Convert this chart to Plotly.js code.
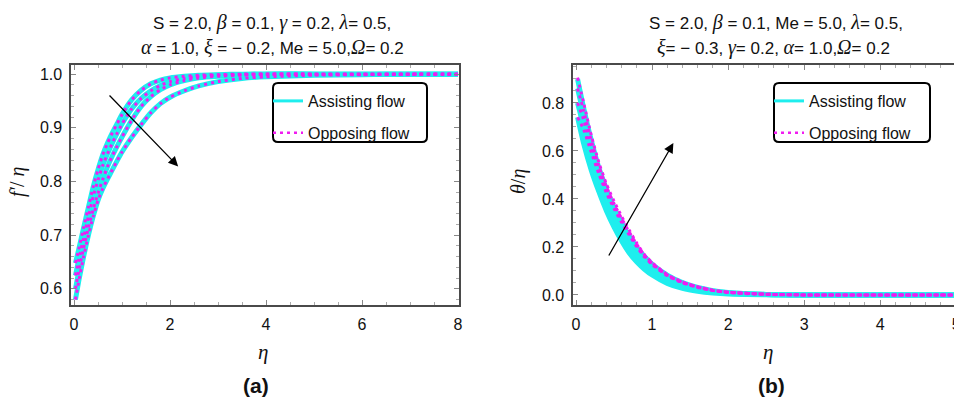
<!DOCTYPE html>
<html>
<head>
<meta charset="utf-8">
<script src="https://cdn.plot.ly/plotly-3.0.1.min.js"></script>
<style>
html,body{margin:0;padding:0;overflow:hidden;background:#fff;}
#chart{width:970px;height:398px;}
</style>
</head>
<body>
<div id="chart"></div>
<script>
// ---------- Panel (a): f'/eta vs eta ----------
const etaA = [0.03, 0.1, 0.2, 0.3, 0.4, 0.5, 0.6, 0.7, 0.8, 0.9, 1.0, 1.2, 1.4, 1.6, 1.8, 2.0, 2.3, 2.6, 3.0, 3.5, 4.0, 5.0, 6.0, 7.0, 8.0];
const fA1 = [0.648, 0.674, 0.714, 0.752, 0.790, 0.822, 0.850, 0.872, 0.891, 0.908, 0.925, 0.952, 0.970, 0.982, 0.989, 0.993, 0.996, 0.998, 0.999, 1.0, 1.0, 1.0, 1.0, 1.0, 1.0];
const fA2 = [0.625, 0.655, 0.695, 0.735, 0.772, 0.803, 0.830, 0.852, 0.872, 0.890, 0.907, 0.935, 0.955, 0.969, 0.979, 0.986, 0.992, 0.996, 0.998, 0.999, 1.0, 1.0, 1.0, 1.0, 1.0];
const fA3 = [0.600, 0.633, 0.676, 0.714, 0.748, 0.778, 0.804, 0.828, 0.848, 0.866, 0.883, 0.914, 0.940, 0.958, 0.971, 0.980, 0.988, 0.993, 0.996, 0.998, 1.0, 1.0, 1.0, 1.0, 1.0];
const fA4 = [0.580, 0.615, 0.660, 0.700, 0.735, 0.765, 0.787, 0.805, 0.822, 0.839, 0.855, 0.882, 0.906, 0.928, 0.945, 0.957, 0.969, 0.978, 0.986, 0.992, 0.995, 0.998, 0.999, 1.0, 1.0];
// opposing flow curves coincide with assisting ones in panel (a)
const fO1 = fA1, fO2 = fA2, fO3 = fA3, fO4 = fA4;

// ---------- Panel (b): theta/eta vs eta ----------
const etaB = [0.02, 0.1, 0.2, 0.3, 0.4, 0.5, 0.6, 0.7, 0.8, 0.9, 1.0, 1.2, 1.4, 1.6, 1.8, 2.0, 2.5, 3.0, 4.0, 5.1];
const tA1 = [0.90, 0.78, 0.645, 0.53, 0.44, 0.365, 0.30, 0.245, 0.198, 0.160, 0.128, 0.082, 0.051, 0.031, 0.018, 0.010, 0.002, 0.0, 0.0, 0.0];
const tA2 = [0.86, 0.75, 0.62, 0.51, 0.42, 0.345, 0.282, 0.228, 0.183, 0.146, 0.116, 0.073, 0.045, 0.027, 0.016, 0.009, 0.002, 0.0, 0.0, 0.0];
const tA3 = [0.80, 0.70, 0.58, 0.475, 0.39, 0.315, 0.252, 0.200, 0.158, 0.124, 0.097, 0.060, 0.036, 0.021, 0.012, 0.007, 0.002, 0.0, 0.0, 0.0];
const tA4 = [0.74, 0.63, 0.52, 0.43, 0.350, 0.283, 0.225, 0.175, 0.137, 0.107, 0.083, 0.048, 0.027, 0.015, 0.008, 0.004, 0.001, 0.0, 0.0, 0.0];
const tO1 = [0.905, 0.80, 0.665, 0.552, 0.462, 0.39, 0.327, 0.270, 0.215, 0.168, 0.135, 0.085, 0.054, 0.034, 0.020, 0.012, 0.003, 0.0, 0.0, 0.0];
const tO2 = [0.86, 0.77, 0.645, 0.537, 0.45, 0.38, 0.318, 0.262, 0.210, 0.165, 0.132, 0.083, 0.053, 0.033, 0.019, 0.011, 0.003, 0.0, 0.0, 0.0];
const tO3 = [0.80, 0.73, 0.62, 0.52, 0.437, 0.37, 0.31, 0.256, 0.205, 0.162, 0.130, 0.082, 0.052, 0.032, 0.019, 0.011, 0.003, 0.0, 0.0, 0.0];
const tO4 = [0.74, 0.69, 0.595, 0.505, 0.425, 0.36, 0.302, 0.250, 0.200, 0.158, 0.127, 0.080, 0.050, 0.031, 0.018, 0.010, 0.002, 0.0, 0.0, 0.0];

const legendNames = ['Assisting flow', 'Opposing flow'];

// ---------- styling ----------
const W = 970, H = 398;
const CYAN = '#1eeeee', MAG = '#f01cf0';
const px = x => x / W, py = y => 1 - y / H;

function assist(x, y, xa, ya) {
  return {x, y, xaxis: xa, yaxis: ya, type: 'scatter', mode: 'lines', showlegend: false,
    line: {color: CYAN, width: 5, shape: 'spline', smoothing: 0.6}, hoverinfo: 'skip'};
}
function oppose(x, y, xa, ya) {
  return {x, y, xaxis: xa, yaxis: ya, type: 'scatter', mode: 'lines', showlegend: false,
    line: {color: MAG, width: 3, dash: '3px,4px', shape: 'spline', smoothing: 0.6}, hoverinfo: 'skip'};
}
// legend-only entries (thinner sample lines, as in the reference key)
function key(i, xa, ya, leg) {
  const line = i === 0 ? {color: CYAN, width: 3} : {color: MAG, width: 2.5, dash: '3px,4px'};
  return {x: [null], y: [null], xaxis: xa, yaxis: ya, type: 'scatter', mode: 'lines', name: legendNames[i],
    legend: leg, legendgroup: leg + i, showlegend: true, line, hoverinfo: 'skip'};
}

const traces = [
  assist(etaA, fA1, 'x', 'y'), assist(etaA, fA2, 'x', 'y'), assist(etaA, fA3, 'x', 'y'), assist(etaA, fA4, 'x', 'y'),
  oppose(etaA, fO1, 'x', 'y'), oppose(etaA, fO2, 'x', 'y'), oppose(etaA, fO3, 'x', 'y'), oppose(etaA, fO4, 'x', 'y'),
  assist(etaB, tA1, 'x2', 'y2'), assist(etaB, tA2, 'x2', 'y2'), assist(etaB, tA3, 'x2', 'y2'), assist(etaB, tA4, 'x2', 'y2'),
  oppose(etaB, tO1, 'x2', 'y2'), oppose(etaB, tO2, 'x2', 'y2'), oppose(etaB, tO3, 'x2', 'y2'), oppose(etaB, tO4, 'x2', 'y2'),
  key(0, 'x', 'y', 'legend'), key(1, 'x', 'y', 'legend'),
  key(0, 'x2', 'y2', 'legend2'), key(1, 'x2', 'y2', 'legend2'),
];

const axisBase = {
  showline: true, linecolor: '#4a4a4a', linewidth: 1.6, mirror: 'allticks',
  ticks: 'inside', ticklen: 5, tickcolor: '#888', tickwidth: 1,
  showgrid: false, zeroline: false, fixedrange: true,
  tickfont: {family: 'Liberation Sans, Arial, sans-serif', size: 16, color: '#111'},
  minor: {ticks: 'inside', ticklen: 3, tickcolor: '#aaa', tickwidth: 1, showgrid: false}
};
function ax(extra) { const o = JSON.parse(JSON.stringify(axisBase)); Object.assign(o, extra); if (extra.minorD) { o.minor.dtick = extra.minorD; delete o.minorD; } return o; }

const yDom = [py(305), py(65)];

const g = s => `<span style="font-family:Liberation Serif;font-size:20px"><i>${s}</i></span>`;
const tFont = {family: 'Liberation Sans, Arial, sans-serif', size: 17, color: '#111'};

function ann(x, y, text, opts) {
  return Object.assign({xref: 'paper', yref: 'paper', x: px(x), y: py(y), text, showarrow: false,
    xanchor: 'center', yanchor: 'middle', font: tFont}, opts || {});
}

const annotations = [
  ann(272, 23, `S = 2.0, ${g('β')} = 0.1, ${g('γ')} = 0.2, ${g('λ')}= 0.5,`),
  ann(272, 47, `${g('α')} = 1.0, ${g('ξ')} = − 0.2, Me = 5.0,${g('Ω')}= 0.2`),
  ann(776, 23, `S = 2.0, ${g('β')} = 0.1, Me = 5.0, ${g('λ')}= 0.5,`),
  ann(773, 47, `${g('ξ')}= − 0.3, ${g('γ')}= 0.2, ${g('α')}= 1.0,${g('Ω')}= 0.2`),
  ann(263, 352, '<i>η</i>', {font: {family: 'Liberation Serif, serif', size: 21, color: '#111'}}),
  ann(768, 352, '<i>η</i>', {font: {family: 'Liberation Serif, serif', size: 21, color: '#111'}}),
  ann(256, 385, '<b>(a)</b>', {font: {family: 'Liberation Sans, Arial, sans-serif', size: 21, color: '#111'}}),
  ann(771, 385, '<b>(b)</b>', {font: {family: 'Liberation Sans, Arial, sans-serif', size: 21, color: '#111'}}),
  ann(17, 182, '<i>f′</i>/ <i>η</i>', {textangle: -90, font: {family: 'Liberation Serif, serif', size: 20, color: '#111'}}),
  ann(518, 182, '<i>θ</i>/<i>η</i>', {textangle: -90, font: {family: 'Liberation Serif, serif', size: 20, color: '#111'}}),
  // parameter-direction arrows
  {xref: 'x', yref: 'y', axref: 'x', ayref: 'y', x: 2.17, y: 0.828, ax: 0.71, ay: 0.963, text: '',
    showarrow: true, arrowhead: 2, arrowsize: 1.5, arrowwidth: 1.3, arrowcolor: '#000'},
  {xref: 'x2', yref: 'y2', axref: 'x2', ayref: 'y2', x: 1.28, y: 0.633, ax: 0.42, ay: 0.158, text: '',
    showarrow: true, arrowhead: 2, arrowsize: 1.5, arrowwidth: 1.3, arrowcolor: '#000'},
];

function roundRect(w, h, r) {
  const a = w / 2, b = h / 2;
  return `M ${-a + r},${-b} L ${a - r},${-b} Q ${a},${-b} ${a},${-b + r} L ${a},${b - r} Q ${a},${b} ${a - r},${b} ` +
         `L ${-a + r},${b} Q ${-a},${b} ${-a},${b - r} L ${-a},${-b + r} Q ${-a},${-b} ${-a + r},${-b} Z`;
}
const shapes = [
  {type: 'path', xref: 'paper', yref: 'paper', xsizemode: 'pixel', ysizemode: 'pixel',
   xanchor: px(350), yanchor: py(112.5), path: roundRect(154, 59, 5), line: {color: '#000', width: 2}},
  {type: 'path', xref: 'paper', yref: 'paper', xsizemode: 'pixel', ysizemode: 'pixel',
   xanchor: px(852), yanchor: py(112.5), path: roundRect(156, 59, 5), line: {color: '#000', width: 2}},
];

const legFont = {family: 'Liberation Sans, Arial, sans-serif', size: 16, color: '#111'};
const layout = {
  width: W, height: H, margin: {l: 0, r: 0, t: 0, b: 0},
  paper_bgcolor: '#fff', plot_bgcolor: '#fff', showlegend: true,
  xaxis: ax({domain: [px(71), px(459)], range: [-0.0625, 8.02], dtick: 2, tick0: 0, minorD: 0.5, anchor: 'y', ticklabelstandoff: 4}),
  yaxis: ax({domain: yDom, range: [0.570, 1.017], dtick: 0.1, tick0: 0, minorD: 0.02, anchor: 'x', tickformat: '.1f', ticklabelstandoff: 4}),
  xaxis2: ax({domain: [px(573), px(963)], range: [-0.04, 5.09], dtick: 1, tick0: 0, minorD: 0.2, anchor: 'y2', ticklabelstandoff: 4}),
  yaxis2: ax({domain: yDom, range: [-0.042, 0.958], dtick: 0.2, tick0: 0, minorD: 0.05, anchor: 'x2', tickformat: '.1f', ticklabelstandoff: 4}),
  legend: {x: px(268), y: py(84), xanchor: 'left', yanchor: 'top', bgcolor: 'rgba(0,0,0,0)', borderwidth: 0,
           font: legFont, tracegroupgap: 8, traceorder: 'grouped'},
  legend2: {x: px(769), y: py(84), xanchor: 'left', yanchor: 'top', bgcolor: 'rgba(0,0,0,0)', borderwidth: 0,
           font: legFont, tracegroupgap: 8, traceorder: 'grouped'},
  annotations, shapes
};

Plotly.newPlot('chart', traces, layout, {staticPlot: true, displayModeBar: false});
</script>
</body>
</html>
